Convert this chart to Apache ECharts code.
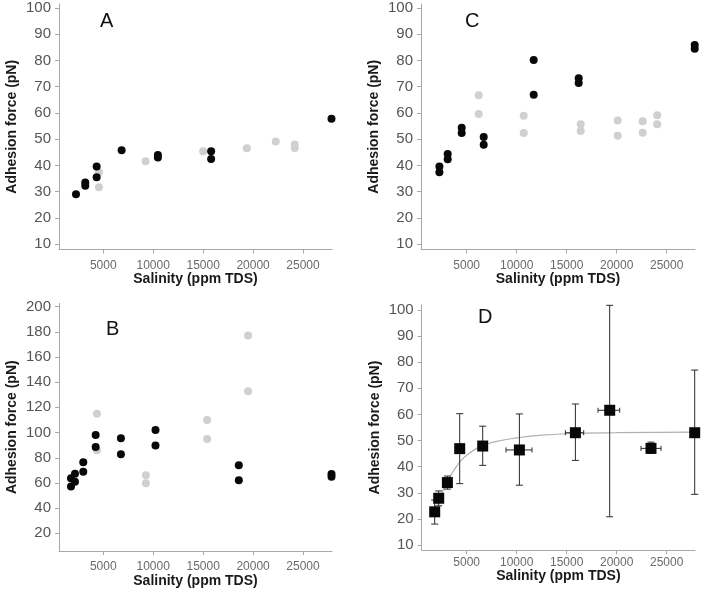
<!DOCTYPE html>
<html>
<head>
<meta charset="utf-8">
<script src="https://cdn.jsdelivr.net/npm/echarts@6/dist/echarts.min.js"></script>
<style>
html,body{margin:0;padding:0;background:#fff;}
#chart{width:704px;height:593px;}
</style>
</head>
<body>
<div id="chart"></div>
<script>
// ---- data ----
const xTicks = [5000, 10000, 15000, 20000, 25000];
const yTicks100 = [10, 20, 30, 40, 50, 60, 70, 80, 90, 100];
const yTicks200 = [20, 40, 60, 80, 100, 120, 140, 160, 180, 200];

const panelLetters = ['A', 'B', 'C', 'D'];
const xTitle = 'Salinity (ppm TDS)';
const yTitle = 'Adhesion force (pN)';

const aBlack = [[2270, 29], [3200, 33.5], [3200, 32.3], [4340, 39.6], [4340, 35.5], [6840, 45.8],
  [10470, 44], [10470, 43], [15800, 45.4], [15800, 42.5], [27850, 57.8]];
const aGray = [[4570, 37.4], [4570, 31.7], [9240, 41.6], [15000, 45.4], [19370, 46.6],
  [22270, 49.1], [24170, 48], [24170, 46.7]];

const bBlack = [[1770, 57.2], [1770, 63.8], [2170, 67.4], [2170, 60.9], [3000, 76.4], [3000, 68.8],
  [4240, 98], [4240, 88.5], [6770, 95.4], [6770, 82.7], [10230, 102], [10230, 89.8],
  [18570, 74], [18570, 62.2], [27850, 67.2], [27850, 65]];
const bGray = [[4370, 114.9], [4370, 85.9], [9270, 66.1], [9270, 59.8], [15400, 109.9], [15400, 94.9],
  [19500, 177.1], [19500, 132.8]];

const cBlack = [[2270, 39.6], [2270, 37.4], [3100, 44.4], [3100, 42.4], [4500, 54.4], [4500, 52.4],
  [6700, 50.8], [6700, 47.9], [11700, 80.2], [11700, 66.9], [16200, 73.2], [16200, 71.4],
  [27800, 85.9], [27800, 84.5]];
const cGray = [[6200, 66.7], [6200, 59.6], [10700, 58.9], [10700, 52.4], [16400, 55.7], [16400, 53.1],
  [20100, 57.1], [20100, 51.3], [22600, 56.8], [22600, 52.5], [24050, 59.1], [24050, 55.7]];

const dX = [1800, 2200, 3070, 4300, 6600, 10270, 15870, 19300, 23430, 27800];
const dY = [22.7, 27.9, 33.9, 46.9, 47.9, 46.4, 53, 61.6, 47, 53];
const dYLow = [18, 25, 31.4, 33.5, 40.5, 32.9, 42.4, 20.8, 45.1, 29.4];
const dYHigh = [27.2, 30.7, 36.4, 60.3, 55.5, 60.2, 64, 101.8, 49.4, 77];
const dXLow = [null, null, null, null, null, 8930, 14870, 18130, 22430, null];
const dXHigh = [null, null, null, null, null, 11530, 16700, 20300, 24430, null];

const dFit = [[2000, 25.5], [2500, 29.8], [3000, 33.8], [3500, 37.3], [4000, 40.2], [4500, 42.6],
  [5000, 44.4], [6000, 47], [7000, 48.6], [8000, 49.7], [10000, 51], [12000, 51.9],
  [15000, 52.6], [20000, 53], [27800, 53.2]];

// ---- styles ----
const FONT = '"Liberation Sans", Arial, Helvetica, sans-serif';
const AXIS_COLOR = '#a8a8a8';
const BLACK = '#080808';
const GRAY = '#d0d0d0';

function xAxisFor(grid, min, max, labelMargin, nameGap) {
  return {
    type: 'value', gridIndex: grid, min: min, max: max,
    name: xTitle, nameLocation: 'middle', nameGap: nameGap,
    nameTextStyle: { fontFamily: FONT, fontSize: 14, fontWeight: 'bold', color: '#1a1a1a' },
    axisLine: { show: true, onZero: false, lineStyle: { color: AXIS_COLOR, width: 1 } },
    axisTick: { show: true, length: 4, customValues: xTicks, lineStyle: { color: AXIS_COLOR } },
    axisLabel: { customValues: xTicks, margin: labelMargin, fontFamily: FONT, fontSize: 12, color: '#6a6a6a',
      formatter: v => String(v) },
    splitLine: { show: false }
  };
}
function yAxisFor(grid, min, max, ticks) {
  return {
    type: 'value', gridIndex: grid, min: min, max: max,
    name: yTitle, nameLocation: 'middle', nameGap: 40, nameRotate: 90,
    nameTextStyle: { fontFamily: FONT, fontSize: 14, fontWeight: 'bold', color: '#1a1a1a' },
    axisLine: { show: true, onZero: false, lineStyle: { color: AXIS_COLOR, width: 1 } },
    axisTick: { show: true, length: 4, customValues: ticks, lineStyle: { color: AXIS_COLOR } },
    axisLabel: { customValues: ticks, margin: 8, fontFamily: FONT, fontSize: 15, color: '#555',
      formatter: v => String(v) },
    splitLine: { show: false }
  };
}
function dots(idx, data, color) {
  return { type: 'scatter', xAxisIndex: idx, yAxisIndex: idx, data: data, symbol: 'circle', symbolSize: 8,
    clip: false, itemStyle: { color: color, opacity: 1 }, silent: true };
}

const errData = dX.map((x, i) => [x, dY[i], dYLow[i], dYHigh[i],
  dXLow[i] == null ? NaN : dXLow[i], dXHigh[i] == null ? NaN : dXHigh[i]]);

function renderErr(params, api) {
  const x = api.value(0), y = api.value(1);
  const yl = api.value(2), yh = api.value(3), xl = api.value(4), xh = api.value(5);
  const st = { stroke: '#2a2a2a', lineWidth: 1 };
  const children = [];
  const pLo = api.coord([x, yl]), pHi = api.coord([x, yh]);
  const cap = 3.5;
  children.push({ type: 'line', shape: { x1: pLo[0], y1: pLo[1], x2: pHi[0], y2: pHi[1] }, style: st });
  children.push({ type: 'line', shape: { x1: pLo[0] - cap, y1: pLo[1], x2: pLo[0] + cap, y2: pLo[1] }, style: st });
  children.push({ type: 'line', shape: { x1: pHi[0] - cap, y1: pHi[1], x2: pHi[0] + cap, y2: pHi[1] }, style: st });
  if (!isNaN(xl) && !isNaN(xh)) {
    const qLo = api.coord([xl, y]), qHi = api.coord([xh, y]);
    children.push({ type: 'line', shape: { x1: qLo[0], y1: qLo[1], x2: qHi[0], y2: qHi[1] }, style: st });
    children.push({ type: 'line', shape: { x1: qLo[0], y1: qLo[1] - 2.5, x2: qLo[0], y2: qLo[1] + 2.5 }, style: st });
    children.push({ type: 'line', shape: { x1: qHi[0], y1: qHi[1] - 2.5, x2: qHi[0], y2: qHi[1] + 2.5 }, style: st });
  }
  return { type: 'group', children: children };
}

const chart = echarts.init(document.getElementById('chart'), null, { renderer: 'canvas' });
chart.setOption({
  animation: false,
  backgroundColor: '#fff',
  grid: [
    { left: 59, top: 4, width: 273, height: 245.5 },       // A
    { left: 59, top: 303.4, width: 273, height: 247.6 },   // B
    { left: 421, top: 4, width: 274, height: 245.5 },      // C
    { left: 421.7, top: 304.8, width: 273.3, height: 245.4 } // D
  ],
  xAxis: [
    xAxisFor(0, 570, 27900, 10, 23),
    xAxisFor(1, 570, 27900, 10, 22),
    xAxisFor(2, 430, 27830, 10, 23),
    xAxisFor(3, 500, 27830, 6, 16)
  ],
  yAxis: [
    yAxisFor(0, 8, 101.5, yTicks100),
    yAxisFor(1, 6, 202.5, yTicks200),
    yAxisFor(2, 8, 101.5, yTicks100),
    yAxisFor(3, 8, 102, yTicks100)
  ],
  graphic: [
    { type: 'text', left: 100, top: 11, style: { text: panelLetters[0], font: '20px ' + FONT, fill: '#111' } },
    { type: 'text', left: 106, top: 319, style: { text: panelLetters[1], font: '20px ' + FONT, fill: '#111' } },
    { type: 'text', left: 465, top: 11, style: { text: panelLetters[2], font: '20px ' + FONT, fill: '#111' } },
    { type: 'text', left: 478, top: 307, style: { text: panelLetters[3], font: '20px ' + FONT, fill: '#111' } }
  ],
  series: [
    dots(0, aGray, GRAY), dots(0, aBlack, BLACK),
    dots(1, bGray, GRAY), dots(1, bBlack, BLACK),
    dots(2, cGray, GRAY), dots(2, cBlack, BLACK),
    { type: 'line', xAxisIndex: 3, yAxisIndex: 3, data: dFit, smooth: true, showSymbol: false, silent: true,
      lineStyle: { color: '#b0b0b0', width: 1.2 }, z: 1 },
    { type: 'custom', xAxisIndex: 3, yAxisIndex: 3, data: errData, renderItem: renderErr, silent: true, z: 2,
      clip: false, encode: { x: [0, 4, 5], y: [1, 2, 3] } },
    { type: 'scatter', xAxisIndex: 3, yAxisIndex: 3, data: dX.map((x, i) => [x, dY[i]]), symbol: 'rect',
      symbolSize: 11, clip: false, itemStyle: { color: BLACK, opacity: 1 }, silent: true, z: 3 }
  ]
});
</script>
</body>
</html>
